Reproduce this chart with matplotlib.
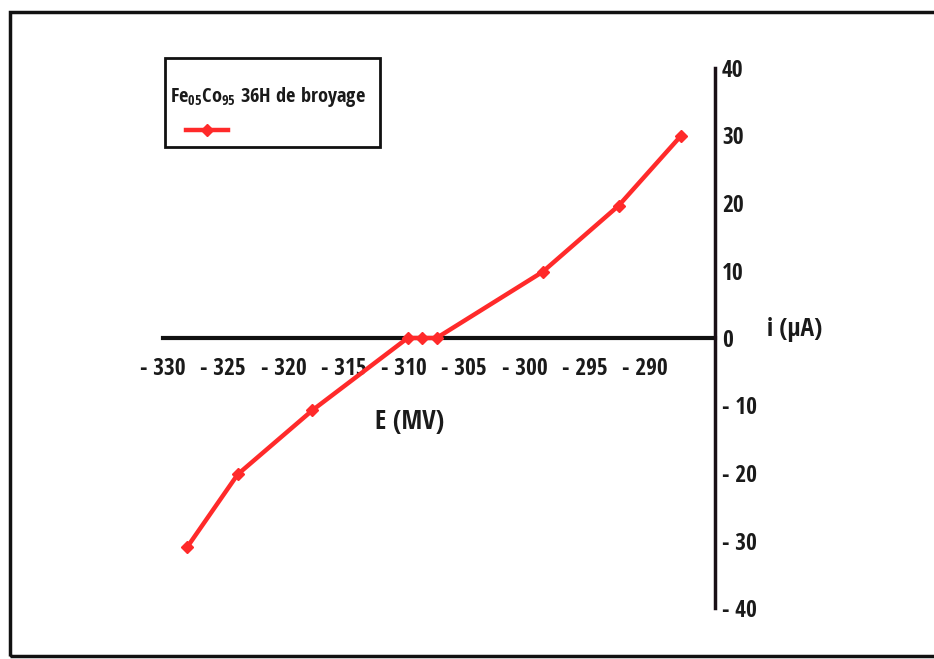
import matplotlib
matplotlib.use("Agg")
import matplotlib.pyplot as plt
from matplotlib import font_manager
from matplotlib.patches import Rectangle
from matplotlib.lines import Line2D

# Polarisation curve: potential E (mV) vs current i (µA)
potential = [-328.0, -323.8, -317.6, -309.7, -308.5, -307.3, -298.5, -292.2, -287.0]
current = [-31.0, -20.2, -10.7, 0.0, 0.0, 0.0, 9.8, 19.6, 30.0]

x_ticks = [-330, -325, -320, -315, -310, -305, -300, -295, -290]
y_ticks = [40, 30, 20, 10, 0, -10, -20, -30, -40]

series_label = r"Fe$_{05}$Co$_{95}$ 36H de broyage"
red = "#ff2a2a"
ink = "#1a1a1a"


def pick_family():
    """Prefer a narrow bold sans; fall back to Liberation Sans."""
    names = {f.name for f in font_manager.fontManager.ttflist}
    for cand in ("Liberation Sans Narrow", "Arial Narrow", "Open Sans Condensed",
                 "Roboto Condensed"):
        if cand in names:
            return cand, True
    return "Liberation Sans", False


family, narrow = pick_family()
scale = 1.2 if narrow else 1.0
plt.rcParams['font.family'] = [family, 'DejaVu Sans']
plt.rcParams['font.weight'] = 'bold'
plt.rcParams['mathtext.default'] = 'regular'

tick_fs = 14 * scale
axis_fs = 16 * scale
legend_fs = 12.2 * scale

W, H = 934, 659
fig = plt.figure(figsize=(W / 100, H / 100), dpi=100)
fig.patch.set_facecolor("white")

ax = fig.add_axes([163 / W, (H - 608) / H, (715 - 163) / W, (608 - 68) / H])
ax.set_xlim(-330, -284.2)
ax.set_ylim(-40, 40)

for s in ("top", "left"):
    ax.spines[s].set_visible(False)
ax.spines["bottom"].set_position(("data", 0))
ax.spines["bottom"].set_linewidth(3)
ax.spines["bottom"].set_color("#111111")
ax.spines["right"].set_linewidth(2.5)
ax.spines["right"].set_color("#1a1016")
ax.spines["bottom"].set_zorder(1)

ax.plot(potential, current, color=red, lw=3.2, marker="D", ms=6,
        mec=red, mfc=red, zorder=3, clip_on=False)

ax.set_xticks(x_ticks)
ax.set_xticklabels([f"- {abs(v)}" for v in x_ticks], fontsize=tick_fs, fontweight="bold")
ax.tick_params(axis="x", length=0, pad=14, colors=ink)

ax.yaxis.tick_right()
ax.set_yticks(y_ticks)
ax.set_yticklabels([f"- {abs(v)}" if v < 0 else str(v) for v in y_ticks],
                   fontsize=tick_fs, fontweight="bold")
ax.tick_params(axis="y", length=0, pad=5, colors=ink)
for lbl in ax.get_yticklabels():
    lbl.set_horizontalalignment("left")

fig.text(410 / W, 1 - 422 / H, "E (MV)", ha="center", va="center",
         fontsize=axis_fs, fontweight="bold", color=ink)
fig.text(795 / W, 1 - 330 / H, "i (µA)", ha="center", va="center",
         fontsize=axis_fs * 0.95, fontweight="bold", color=ink)

# Legend box
fig.add_artist(Rectangle((165 / W, 1 - 147 / H), (380 - 165) / W, (147 - 58) / H,
                         transform=fig.transFigure, fill=False, lw=2, ec="#111111"))
fig.text(170 / W, 1 - 97 / H, series_label, ha="left", va="center",
         fontsize=legend_fs, fontweight="bold", color=ink)
fig.add_artist(Line2D([186 / W, 228 / W], [1 - 130 / H, 1 - 130 / H],
                      transform=fig.transFigure, color=red, lw=3.2))
fig.add_artist(Line2D([207 / W], [1 - 130 / H], transform=fig.transFigure,
                      color=red, marker="D", ms=6, lw=0))

# Outer frame
fig.add_artist(Rectangle((10 / W, 3 / H), 1.0, 1 - 15 / H,
                         transform=fig.transFigure, fill=False, lw=2.5, ec="#111111"))

fig.savefig("out.png", dpi=100)
